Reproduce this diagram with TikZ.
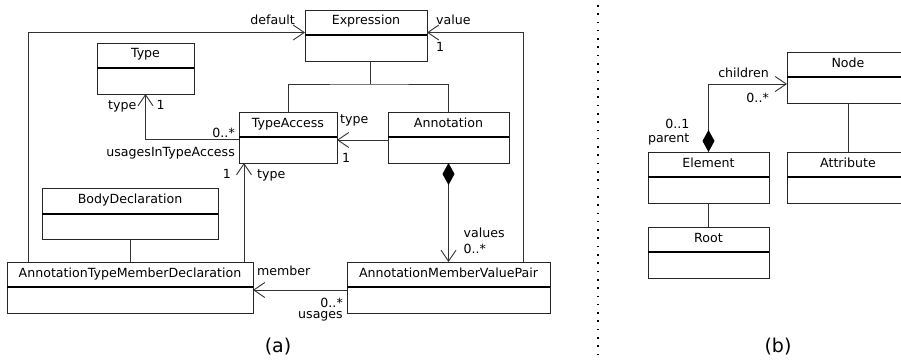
\documentclass[tikz,border=0pt]{standalone}
\usepackage{fontspec}
\setmainfont{DejaVu Sans}
\usetikzlibrary{positioning,arrows.meta,calc}

\tikzset{
  every node/.style={font=\fontsize{12.6pt}{15pt}\selectfont},
  head/.style={draw=black!85, line width=0.9pt, minimum width=#1, minimum height=25pt,
    inner sep=0pt, outer sep=0pt, text height=9pt, text depth=4pt},
  body/.style={draw=black!85, line width=0.9pt, minimum width=#1, minimum height=26pt,
    inner sep=0pt, outer sep=0pt,
    append after command={(\tikzlastnode.north west) edge[divider] (\tikzlastnode.north east)}},
  divider/.style={draw=black, line width=2pt},
  link/.style={draw=black!80, line width=0.9pt},
  assoc/.style={link, -{Straight Barb[length=11pt,width=15pt,line width=0.9pt]}},
  comp/.style={link, {Diamond[length=22pt,width=12pt,color=black]}-{Straight Barb[length=11pt,width=15pt,line width=0.9pt]}},
  lbl/.style={inner sep=0pt},
  caption/.style={inner sep=0pt, font=\fontsize{19pt}{22pt}\selectfont},
  sep/.style={line width=1.6pt, dash pattern=on 1.6pt off 6.7pt},
}

\begin{document}
\begin{tikzpicture}[x=1pt,y=-1pt]

  \useasboundingbox (0,0) rectangle (901,361);

  % (a) classes
  \node[head=122pt] (expr) at (366,22.5) {Expression};
  \node[body=122pt, below=0pt of expr] (exprb) {};

  \node[head=97pt] (typ) at (145.5,55.5) {Type};
  \node[body=97pt, below=0pt of typ] (typb) {};

  \node[head=98pt] (tacc) at (288,124.5) {TypeAccess};
  \node[body=98pt, below=0pt of tacc] (taccb) {};

  \node[head=121pt] (annot) at (448.5,124.5) {Annotation};
  \node[body=121pt, below=0pt of annot] (annotb) {};

  \node[head=176pt] (body) at (130,201) {BodyDeclaration};
  \node[body=176pt, below=0pt of body] (bodyb) {};

  \node[head=246pt] (atmd) at (130,274.5) {AnnotationTypeMemberDeclaration};
  \node[body=246pt, below=0pt of atmd] (atmdb) {};

  \node[head=203pt] (amvp) at (448.5,274.5) {AnnotationMemberValuePair};
  \node[body=203pt, below=0pt of amvp] (amvpb) {};

  % (a) connectors
  \draw[link] ([xshift=4pt]exprb.south) -- ++(0,23) coordinate (fork);
  \draw[link] (tacc.north) |- (fork) -| (annot.north);
  \draw[assoc] ([xshift=21pt]atmd.north west) |- ([yshift=2.5pt]expr.south west);
  \draw[assoc] ([xshift=-27pt]amvp.north east) |- ([yshift=2.5pt]expr.south east);
  \draw[assoc] ([yshift=-2pt]tacc.south west) -| (typb.south);
  \draw[assoc] ([yshift=-3pt]annot.south west) -- ([yshift=-3pt]tacc.south east);
  \draw[assoc] ([xshift=-9pt]atmd.north east) -- ([xshift=5pt]taccb.south west);
  \draw[link] (bodyb.south) -- (atmd.north);
  \draw[assoc] ([yshift=-3pt]amvp.south west) -- ([yshift=-3pt]atmd.south east);
  \draw[comp] (annotb.south) -- (amvp.north);

  % (a) labels
  \node[lbl, anchor=base east] (ldefault) at ([shift={(-10pt,-2.5pt)}]expr.west) {default};
  \node[lbl, anchor=base west] (lvalue) at ([shift={(9pt,-2.5pt)}]expr.east) {value};
  \node[lbl, anchor=base west] (lvalone) at ([shift={(9pt,-17pt)}]expr.south east) {1};
  \node[lbl, anchor=base east] (ltype) at ([shift={(-9pt,-15pt)}]typb.south) {type};
  \node[lbl, anchor=base west] (ltypone) at ([shift={(11pt,-15pt)}]typb.south) {1};
  \node[lbl, anchor=base east] (lusemult) at ([shift={(-4pt,0pt)}]tacc.south west) {0..*};
  \node[lbl, anchor=base east] (luse) at ([shift={(-4pt,-19pt)}]tacc.south west) {usagesInTypeAccess};
  \node[lbl, anchor=base west] (lantype) at ([shift={(3pt,1.5pt)}]tacc.east) {type};
  \node[lbl, anchor=base west] (lanone) at ([shift={(5pt,1pt)}]taccb.south east) {1};
  \node[lbl, anchor=base east] (lmemone) at ([shift={(-8pt,-15pt)}]taccb.south west) {1};
  \node[lbl, anchor=base west] (lmemtype) at ([shift={(18pt,-15pt)}]taccb.south west) {type};
  \node[lbl, anchor=base west] (lmember) at ([shift={(4pt,-13pt)}]atmd.north east) {member};
  \node[lbl, anchor=base east] (lusgmult) at ([shift={(-4pt,-20pt)}]amvp.south west) {0..*};
  \node[lbl, anchor=base east] (lusages) at ([shift={(-4pt,-31pt)}]amvp.south west) {usages};
  \node[lbl, anchor=base west] (lvalues) at ([shift={(15pt,25pt)}]amvp.north) {values};
  \node[lbl, anchor=base west] (lvalmult) at ([shift={(15pt,9pt)}]amvp.north) {0..*};

  % separator
  \draw[sep] (598,5) -- (598,361);

  % (b) classes
  \node[head=122pt] (ncls) at (848,64.5) {Node};
  \node[body=122pt, below=0pt of ncls] (nclsb) {};

  \node[head=121pt] (elem) at (708.5,164.5) {Element};
  \node[body=121pt, below=0pt of elem] (elemb) {};

  \node[head=122pt, right=18pt of elem] (attr) {Attribute};
  \node[body=122pt, below=0pt of attr] (attrb) {};

  \node[head=121pt, below=24pt of elemb] (root) {Root};
  \node[body=121pt, below=0pt of root] (rootb) {};

  % (b) connectors
  \draw[comp] (elem.north) |- ([yshift=-7pt]ncls.south west);
  \draw[link] (nclsb.south) -- (attr.north);
  \draw[link] (elemb.south) -- (root.north);

  % (b) labels
  \node[lbl, anchor=base east] (lchildren) at ([shift={(-18pt,-25pt)}]ncls.north west) {children};
  \node[lbl, anchor=base east] (lchmult) at ([shift={(-18pt,-25pt)}]nclsb.north west) {0..*};
  \node[lbl, anchor=base east] (lparmult) at ([shift={(-19pt,24pt)}]elem.north) {0..1};
  \node[lbl, anchor=base east] (lparent) at ([shift={(-19pt,10pt)}]elem.north) {parent};

  % captions
  \node[caption, anchor=base] (capa) at (278,352) {(a)};
  \node[caption, anchor=base] (capb) at (778,352) {(b)};

\end{tikzpicture}
\end{document}
